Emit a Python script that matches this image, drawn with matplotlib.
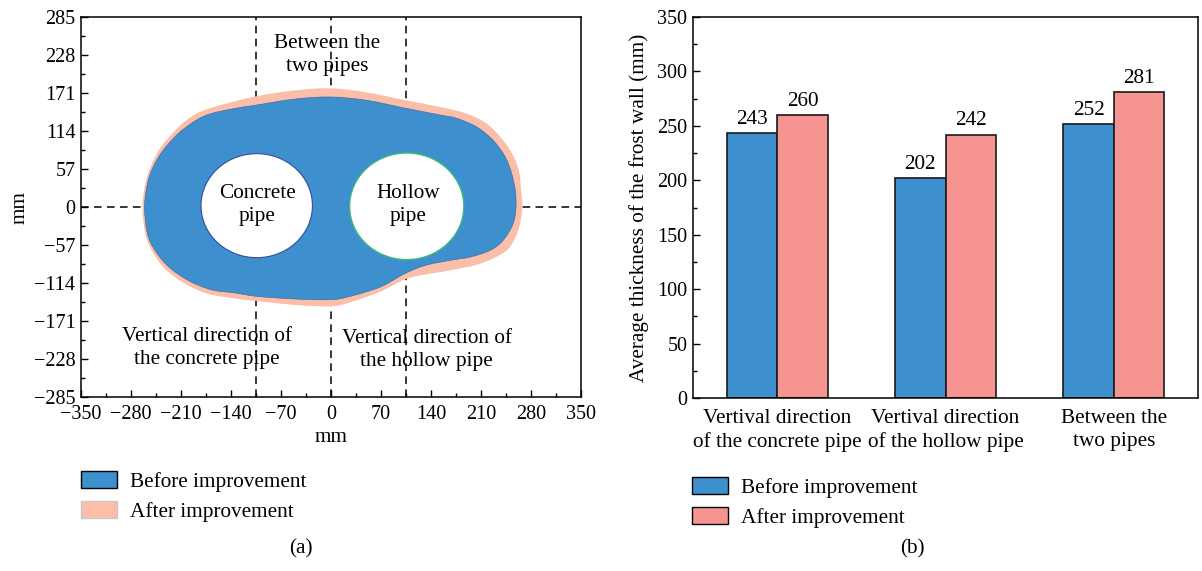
import numpy as np
import matplotlib
matplotlib.use("Agg")
import matplotlib.pyplot as plt
from matplotlib.path import Path
from matplotlib.patches import PathPatch, Circle, Patch

plt.rcParams['font.family'] = ['Liberation Serif', 'DejaVu Serif']
plt.rcParams['font.size'] = 15.3
TICK_FS = 14.5

# Frost wall outline before improvement (mm)
before_x = [259, 258, 253, 244, 227, 204, 176, 153, 105, 50, 0, -50, -104, -134, -168,
            -189, -214, -235, -249, -257, -261, -257, -247, -228, -200, -168, -134, -104,
            -50, 0, 27, 69, 105, 134, 167, 195, 223, 241, 255]
before_y = [0, 25, 50, 75, 100, 120, 133, 138, 148, 160, 165, 162, 153, 148, 140,
            130, 110, 85, 60, 35, 0, -40, -64, -89, -110, -124, -129, -134,
            -138, -139, -134, -120, -99, -87, -80, -75, -65, -50, -25]

# Frost wall outline after improvement (mm)
after_x = [268, 266, 264, 256, 241, 218, 190, 153, 105, 50, 0, -50, -105, -167, -195,
           -216, -238, -252, -260, -264, -260, -250, -232, -206, -173, -136, -104, -50,
           0, 27, 69, 105, 139, 167, 209, 246, 262]
after_y = [0, 25, 50, 75, 100, 125, 140, 150, 160, 172, 178, 175, 166, 149, 136,
           117, 90, 62, 35, 0, -40, -67, -93, -114, -130, -137, -141, -147,
           -149, -143, -127, -108, -100, -95, -85, -65, -35]

# pipes: centre x, centre y, radius (mm)
concrete_pipe = (-104, 2, 78)
hollow_pipe = (106, 1, 80)
section_lines = [-105, 0, 105]

# bar chart
categories = ['Vertival direction\nof the concrete pipe',
              'Vertival direction\nof the hollow pipe',
              'Between the\ntwo pipes']
before_vals = [243, 202, 252]
after_vals = [260, 242, 281]

blue = '#3D8FCE'
peach = '#FBBFA9'
pink = '#F59491'


def smooth_closed_path(xs, ys):
    # closed Catmull-Rom curve written as cubic Bezier segments
    pts = np.column_stack([xs, ys]).astype(float)
    n = len(pts)
    verts = [pts[0]]
    codes = [Path.MOVETO]
    for i in range(n):
        p0, p1, p2, p3 = pts[i - 1], pts[i], pts[(i + 1) % n], pts[(i + 2) % n]
        verts += [p1 + (p2 - p0) / 6, p2 - (p3 - p1) / 6, p2]
        codes += [Path.CURVE4] * 3
    return Path(verts, codes)


def legend_below(colors, edges, x0, ytop):
    fig.legend(handles=[Patch(facecolor=c, edgecolor=e, lw=1.0) for c, e in zip(colors, edges)],
               labels=['Before improvement', 'After improvement'],
               loc='upper left', bbox_to_anchor=(x0 / 1202, 1 - ytop / 571),
               frameon=False, borderpad=0, borderaxespad=0, handlelength=1.7,
               handleheight=0.85, handletextpad=0.6, labelspacing=0.42)


fig = plt.figure(figsize=(12.02, 5.71), dpi=100)

# ---- (a) frost wall shape ----
ax1 = fig.add_axes([81 / 1202, 174 / 571, 500 / 1202, 380 / 571])
for xv in section_lines:
    ax1.axvline(xv, color='black', lw=1.1, ls=(0, (5, 3.5)), zorder=1)
ax1.axhline(0, color='black', lw=1.1, ls=(0, (5, 3.5)), zorder=1)

ax1.add_patch(PathPatch(smooth_closed_path(after_x, after_y), facecolor=peach,
                        edgecolor='none', zorder=2))
ax1.add_patch(PathPatch(smooth_closed_path(before_x, before_y), facecolor=blue,
                        edgecolor='#35639a', lw=0.4, zorder=3))
cx, cy, r = concrete_pipe
ax1.add_patch(Circle((cx, cy), r, facecolor='white', edgecolor='#2f4f9e', lw=0.8, zorder=4))
cx, cy, r = hollow_pipe
ax1.add_patch(Circle((cx, cy), r, facecolor='white', edgecolor='#3cb878', lw=1.0, zorder=4))

txt = dict(ha='center', va='center', zorder=5, linespacing=1.3)
ax1.text(-103, 3, 'Concrete\npipe', **txt)
ax1.text(108, 3, 'Hollow\npipe', **txt)
ax1.text(-5, 228, 'Between the\ntwo pipes', **txt)
ax1.text(-174, -211, 'Vertical direction of\nthe concrete pipe', **txt)
ax1.text(134, -214, 'Vertical direction of\nthe hollow pipe', **txt)

ax1.set_xlim(-350, 350)
ax1.set_ylim(-285, 285)
ax1.set_xticks(np.arange(-350, 351, 70))
ax1.set_xticks(np.arange(-315, 350, 70), minor=True)
ax1.set_yticks(np.arange(-285, 286, 57))
ax1.set_yticks(np.arange(-256.5, 285, 57), minor=True)
ax1.tick_params(which='both', direction='in', top=False, right=False, labelsize=TICK_FS)
ax1.tick_params(which='major', length=5, width=1)
ax1.tick_params(which='minor', length=3, width=1)
ax1.tick_params(axis='x', pad=6)
ax1.tick_params(axis='y', pad=4)
ax1.set_xlabel('mm', labelpad=3)
ax1.set_ylabel('mm', labelpad=3)
for sp in ax1.spines.values():
    sp.set_linewidth(1.1)

legend_below([blue, peach], ['black', '#c8c8c8'], 81, 471)
fig.text(301 / 1202, 1 - 549 / 571, '(a)', ha='center', va='center')

# ---- (b) average thickness ----
ax2 = fig.add_axes([693 / 1202, 173 / 571, 505 / 1202, 381 / 571])
xpos = np.arange(1, len(categories) + 1)
w = 0.3
b1 = ax2.bar(xpos - w / 2, before_vals, w, color=blue, edgecolor='#1a1a1a', lw=1.2)
b2 = ax2.bar(xpos + w / 2, after_vals, w, color=pink, edgecolor='#1a1a1a', lw=1.2)
ax2.bar_label(b1, padding=3)
ax2.bar_label(b2, padding=3)
ax2.set_xlim(0.5, 3.5)
ax2.set_ylim(0, 350)
ax2.set_xticks(xpos)
ax2.set_xticklabels(categories, fontsize=15.3, linespacing=1.25)
ax2.set_yticks(np.arange(0, 351, 50))
ax2.set_yticks(np.arange(25, 350, 50), minor=True)
ax2.tick_params(axis='x', length=0, pad=8)
ax2.tick_params(axis='y', which='both', direction='in', labelsize=TICK_FS)
ax2.tick_params(axis='y', which='major', length=5, width=1, pad=4)
ax2.tick_params(axis='y', which='minor', length=3, width=1)
ax2.set_ylabel('Average thickness of the frost wall (mm)', labelpad=6)
for sp in ax2.spines.values():
    sp.set_linewidth(1.1)

legend_below([blue, pink], ['black', 'black'], 692, 477)
fig.text(912 / 1202, 1 - 549 / 571, '(b)', ha='center', va='center')

fig.savefig('out.png', dpi=100)
